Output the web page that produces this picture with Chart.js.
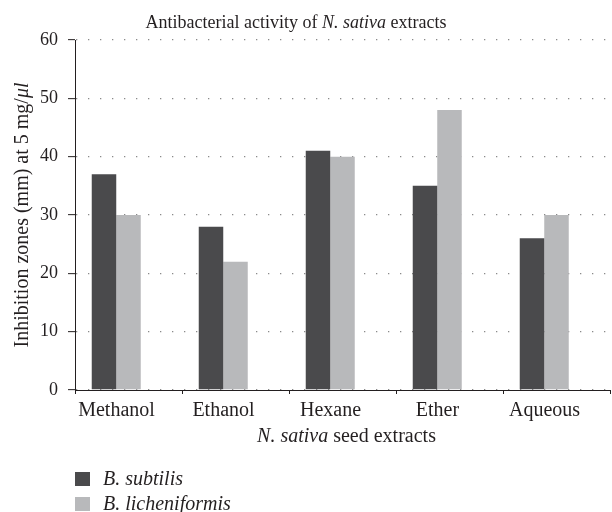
<!DOCTYPE html>
<html>
<head>
<meta charset="utf-8">
<script src="https://cdn.jsdelivr.net/npm/chart.js@4"></script>
<style>
html,body{margin:0;padding:0;background:#fff;}
#wrap{width:612px;height:512px;position:relative;}
</style>
</head>
<body>
<div id="wrap"><canvas id="c" width="612" height="512"></canvas></div>
<script>
const categories = ['Methanol', 'Ethanol', 'Hexane', 'Ether', 'Aqueous'];
const bSubtilis = [37, 28, 41, 35, 26];
const bLicheniformis = [30, 22, 40, 48, 30];
const seriesNames = ['B. subtilis', 'B. licheniformis'];
const yTicks = [0, 10, 20, 30, 40, 50, 60];

const FAMILY = "'Liberation Serif', 'DejaVu Serif', serif";
const TEXT = '#231f20';
const DARK = '#4a4a4c';
const LIGHT = '#b8b9bb';

function drawRich(ctx, segs, x, y, size) {
  let total = 0;
  segs.forEach(s => { ctx.font = (s.i ? 'italic ' : '') + size + 'px ' + FAMILY; total += ctx.measureText(s.t).width; });
  let cx = x - total / 2;
  segs.forEach(s => {
    ctx.font = (s.i ? 'italic ' : '') + size + 'px ' + FAMILY;
    ctx.fillText(s.t, cx, y);
    cx += ctx.measureText(s.t).width;
  });
}

const textPlugin = {
  id: 'richText',
  afterDraw(chart) {
    const ctx = chart.ctx;
    const area = chart.chartArea;
    ctx.save();
    ctx.fillStyle = TEXT;
    ctx.textBaseline = 'alphabetic';
    ctx.textAlign = 'left';
    // title
    drawRich(ctx, [{t: 'Antibacterial activity of '}, {t: 'N. sativa', i: true}, {t: ' extracts'}], 296, 28, 18);
    // x title
    drawRich(ctx, [{t: 'N. sativa', i: true}, {t: ' seed extracts'}], (area.left + area.right) / 2 + 4, 442, 20);
    // y title
    ctx.save();
    ctx.translate(28, (area.top + area.bottom) / 2);
    ctx.rotate(-Math.PI / 2);
    drawRich(ctx, [{t: 'Inhibition zones (mm) at 5 mg/'}, {t: 'μl', i: true}], 0, 0, 20);
    ctx.restore();
    // legend
    const ds = chart.data.datasets;
    for (let k = 0; k < 2; k++) {
      const cy = 479 + k * 25;
      ctx.fillStyle = ds[k].backgroundColor;
      ctx.fillRect(75, cy - 7, 15, 14);
      ctx.fillStyle = TEXT;
      ctx.font = 'italic 20px ' + FAMILY;
      ctx.fillText(ds[k].label, 103, cy + 6);
    }
    ctx.restore();
  }
};

new Chart(document.getElementById('c'), {
  type: 'bar',
  data: {
    labels: categories,
    datasets: [
      {label: seriesNames[0], data: bSubtilis, backgroundColor: DARK},
      {label: seriesNames[1], data: bLicheniformis, backgroundColor: LIGHT},
      {label: '', data: categories.map(() => null), backgroundColor: 'rgba(0,0,0,0)'}
    ]
  },
  options: {
    responsive: false,
    animation: false,
    devicePixelRatio: 1,
    layout: {padding: {top: 40, right: 2, left: 0, bottom: 0}},
    datasets: {bar: {categoryPercentage: 0.687, barPercentage: 1.0}},
    plugins: {legend: {display: false}, title: {display: false}, tooltip: {enabled: false}},
    scales: {
      x: {
        afterFit(s) { s.height = 122; },
        grid: {offset: true, drawOnChartArea: false, drawTicks: true, tickLength: 4, tickColor: TEXT, tickWidth: 1},
        border: {display: true, color: TEXT, width: 1},
        ticks: {color: TEXT, font: {family: FAMILY, size: 20}, padding: 5, maxRotation: 0, labelOffset: -12}
      },
      y: {
        min: 0, max: 60,
        afterFit(s) { s.width = 75; },
        afterBuildTicks(s) { s.ticks = yTicks.map(v => ({value: v})); },
        grid: {color: '#8a8a8a', lineWidth: 1.3, tickLength: 7, tickColor: TEXT, tickWidth: 1, tickBorderDash: []},
        border: {display: true, color: TEXT, width: 1, dash: [1.3, 10.7]},
        ticks: {color: TEXT, font: {family: FAMILY, size: 18}, padding: 10}
      }
    }
  },
  plugins: [textPlugin]
});
</script>
</body>
</html>
